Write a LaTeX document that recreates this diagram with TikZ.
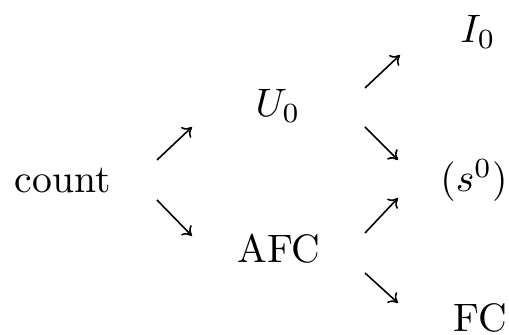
\documentclass[tikz,border=0pt]{standalone}
\usetikzlibrary{arrows.meta}
\begin{document}
\begin{tikzpicture}[x=0.252pt,y=-0.252pt,
  lbl/.style={anchor=base,inner sep=0pt},
  arr/.style={line width=0.4pt,-{To[length=2.2pt,width=3.6pt]}}]
\useasboundingbox (0,0) rectangle (509,335);
\node[lbl] (count) at (62.5,193) {count};
\node[lbl] (U0) at (278,117) {$U_0$};
\node[lbl] (AFC) at (279,263) {AFC};
\node[lbl] (I0) at (478,43) {$I_0$};
\node[lbl] (s0) at (474,192) {$(s^0)$};
\node[lbl] (FC) at (480,332) {FC};
\coordinate (a1s) at (157,160); \coordinate (a1e) at (192,127);
\coordinate (a2s) at (157,200); \coordinate (a2e) at (192,236);
\coordinate (a3s) at (365,88);  \coordinate (a3e) at (400,55);
\coordinate (a4s) at (365,127); \coordinate (a4e) at (398,160);
\coordinate (a5s) at (365,233); \coordinate (a5e) at (398,198);
\coordinate (a6s) at (365,273); \coordinate (a6e) at (398,303);
\draw[arr] (a1s) -- (a1e);
\draw[arr] (a2s) -- (a2e);
\draw[arr] (a3s) -- (a3e);
\draw[arr] (a4s) -- (a4e);
\draw[arr] (a5s) -- (a5e);
\draw[arr] (a6s) -- (a6e);
\end{tikzpicture}
\end{document}
